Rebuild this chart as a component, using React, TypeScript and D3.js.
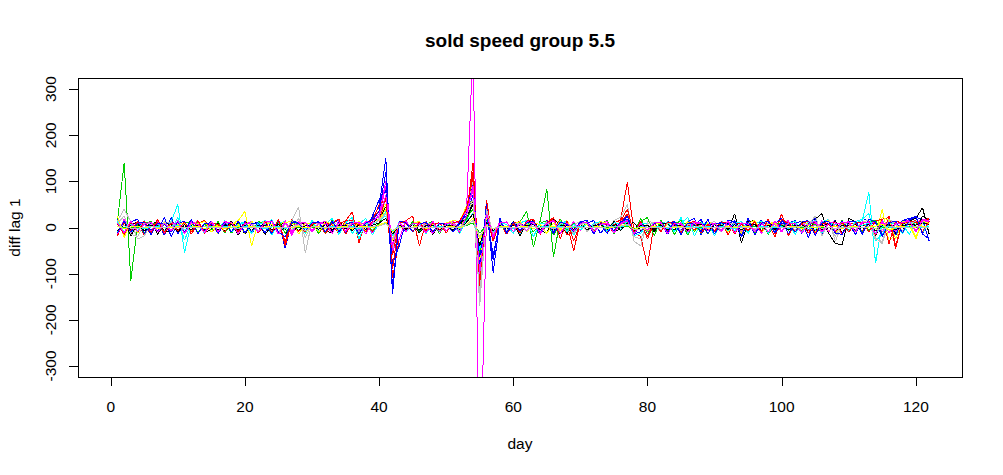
import React from "react";
import * as d3 from "d3";

const title = "sold speed group 5.5";
const xLabel = "day";
const yLabel = "diff lag 1";
const xTicks = [0, 20, 40, 60, 80, 100, 120];
const yTicks = [-300, -200, -100, 0, 100, 200, 300];
const days = d3.range(1, 123);
const palette = ["#000000", "#FF0000", "#00CD00", "#0000FF", "#00FFFF", "#FF00FF", "#FFFF00", "#BEBEBE"];

const blackA = [8,-14,5,12,-16,7,13,-10,-6,11, -9,4,15,-12,-3,10,-8,6,9,-14, 7,12,-15,4,9,-11,-5,14,-9,6, 10,-7,-12,15,-4,8,-11,5,12,18, 45,-38,10,-6,9,-12,7,4,-9,10, -6,8,14,60,-55,16,-20,9,-13,10, 5,-9,15,-7,-12,18,7,-14,10,-6, 9,-11,6,13,-8,-4,15,-13,7,4, -9,10,-6,8,-12,9,13,-10,6,-8, 10,-5,30,-33,9,7,-12,5,10,-9, 7,-10,13,-8,18,30,-12,-35,-37,20, 12,-9,15,-18,9,-11,12,-7,14,20, 43,-15];
const redA = [-16,10,-7,13,-18,9,5,-12,15,-8, 11,-14,7,16,-10,5,-9,12,-15,7, 9,-12,6,-8,14,-30,18,-9,10,7, -11,15,-6,9,14,16,-13,7,22,35, 120,-110,-25,16,-9,10,-7,13,-6,9, 7,-11,25,140,-130,60,-30,15,-13,9, -10,14,9,-12,16,-7,18,-16,-10,13, 7,-9,12,-6,10,16,98,-10,-20,-84, 9,10,-7,6,-12,9,7,-6,10,-9, 6,13,-10,7,-9,12,-7,16,-13,30, -18,10,-7,13,-10,7,16,-13,9,-6, 10,-9,13,-16,18,22,-46,14,10,13, 15,20];
const greenA = [14,140,-115,8,-13,10,6,-9,13,-7, 9,12,-10,7,-6,13,-12,9,-7,10, 6,-9,13,-10,7,9,-12,6,-7,10, -13,9,7,-10,12,-6,9,-7,10,25, 60,-50,9,-7,10,-6,7,13,-10,6, 9,-7,15,50,-60,22,-12,9,-10,7, 12,35,-42,14,83,-64,18,-9,13,-7, 10,-6,9,-13,15,-7,12,-10,20,-14, 9,-6,13,-16,10,7,-9,12,-14,9, 6,-7,10,-6,9,-13,7,10,-9,6, 7,-10,13,-6,9,-7,10,-12,6,9, -7,10,-6,13,-15,7,-9,10,13,-7, 9,14];
const blueA = [18,-12,8,-10,15,-7,13,-17,22,-14, 10,-9,13,-7,6,-10,14,-9,7,11, -13,9,10,-7,15,-45,16,7,-10,13, -9,10,-6,12,-13,9,7,-10,20,45, 150,-145,14,-10,13,-7,9,-12,6,10, -9,7,35,100,-100,50,-98,15,-10,9, 13,-9,10,-15,7,-10,13,-7,9,-6, 10,15,-13,7,-9,10,30,-18,13,-10, 7,9,-15,10,-7,13,20,-16,10,7, -10,15,13,-20,10,-7,17,-13,9,20, -14,10,13,-22,18,-9,7,15,-13,10, -16,20,14,-13,10,7,-9,13,17,22, 18,-30];
const cyanA = [-9,13,-15,10,7,-12,9,-7,13,50, -55,10,7,-13,9,-6,12,-10,7,13, -10,7,15,-17,10,13,-9,7,-12,9, 10,-7,13,-10,15,-13,7,20,-16,10, 35,-25,13,-9,7,10,-13,9,-7,6, 10,-7,20,40,-50,14,-18,10,-7,9, -13,10,7,-9,12,-10,6,15,-17,10, -7,9,13,-10,7,-6,15,-13,9,7, -10,13,7,-9,22,-14,10,-7,9,-18, 13,9,-7,10,-13,15,-9,10,7,-10, 13,-15,9,10,-7,13,17,-10,7,-9, 10,15,76,-78,14,9,-13,10,-15,13, 7,10];
const magentaA = [13,-9,7,-10,15,-13,9,6,-7,10, -12,9,13,-7,10,-9,6,12,-10,7, 13,-10,9,-6,7,10,-13,15,-7,9, -10,12,7,-9,13,-7,10,9,-12,25, 90,-60,13,-7,10,-9,7,6,-10,9, 13,-7,25,400,-600,22,-20,13,-9,10, -7,9,13,-10,7,-6,10,-9,13,-7, 9,-10,7,6,-9,10,18,-14,7,-6, 10,-7,13,-9,6,-10,7,9,-7,10, -6,9,7,-10,13,-7,6,10,-9,7, 15,-10,13,-7,9,-6,10,13,-15,7, 10,-9,7,13,-10,15,-7,10,9,13, 15,7];
const yellowA = [22,-18,12,-10,7,-15,10,9,-7,13, -10,7,12,-9,6,-13,10,7,15,35, -40,13,9,-10,7,12,-9,6,-13,10, 9,-7,15,-10,7,-6,13,-9,10,20, 50,-40,10,-7,9,13,-10,7,-6,9, 10,-7,35,60,-80,22,-18,10,-7,13, -9,7,10,-13,9,-7,15,-10,7,-6, 10,-9,7,13,-10,6,15,-13,9,-7, 10,-6,7,9,-10,13,-7,6,10,-9, 7,-10,13,-7,6,10,-9,7,13,-10, 9,-7,10,6,-13,15,-9,7,10,-7, 13,-10,15,-13,39,-30,-14,10,7,-25, 13,12];
const grayA = [14,40,12,-25,-18,10,-9,7,13,-10, 9,-7,10,-6,13,-9,7,10,-12,9, -7,10,13,-9,7,-6,15,45,-55,13, 9,-7,10,-6,7,13,-10,9,-7,20, 60,-50,10,-7,9,-6,13,-10,7,9, -7,10,45,100,-170,30,-14,9,-7,10, 6,-9,13,-7,10,-6,9,-10,7,13, -9,7,10,-6,15,22,50,-30,-40,14, 10,-7,9,6,-10,7,13,-9,7,-6, 10,-7,9,13,-10,7,-6,10,9,-7, 13,-9,7,10,22,-13,18,-30,7,10, -9,13,15,-22,-35,14,10,-7,9,13, 10,7];
const blackB = [-12,16,-18,10,-7,13,-15,9,6,-10, 7,-9,12,-6,9,-10,7,13,-16,10, 9,-7,13,-10,6,9,-15,7,10,-9, 7,13,-10,9,-6,7,-13,10,9,25, 40,-30,9,-7,10,-6,7,-15,9,6, -7,10,20,50,-60,18,-13,7,-10,13, -18,10,15,-13,9,20,-14,7,-10,9, 7,-9,10,-6,13,-7,9,10,-7,6, -9,7,10,-6,9,-7,13,-10,7,6, -9,10,7,-6,13,15,-10,7,-9,10, 6,-7,10,13,-9,7,-10,15,-13,9, 7,-10,13,-7,9,10,-13,7,15,-9, 25,14];
const redB = [-18,14,-12,10,7,-15,13,-9,10,-7, 13,-10,9,-7,15,-13,10,7,-9,12, -10,9,7,-13,15,-35,9,10,-7,13, -10,9,7,-13,15,34,-33,13,-9,10, 70,-60,9,15,25,-40,13,-9,10,7, -10,13,30,120,-120,40,-25,10,-15,9, 13,-10,15,-9,7,20,-13,9,-51,14, 10,-7,13,-9,7,10,30,-13,9,-20, 10,-7,9,13,-10,7,-6,10,9,-7, 13,-15,10,7,-9,15,-10,7,-20,18, 9,-7,10,-13,15,-7,9,10,-13,7, 10,-9,13,15,-18,25,-40,13,9,10, 14,18];
const greenB = [22,-14,10,-7,9,13,-10,7,-6,10, 9,-7,13,-10,7,-6,15,-13,9,7, -10,13,7,-9,15,-13,10,7,-9,6, 10,-13,17,-9,7,10,-15,13,-7,9, 30,-25,10,-7,13,-9,7,10,-13,9, 7,-10,20,40,-60,18,-12,7,-9,10, -7,13,-10,9,15,-17,10,-7,9,-6, 13,-10,7,15,-13,9,7,-10,13,22, -18,16,-10,7,15,-17,10,-13,9,7, -10,13,7,-9,10,-7,13,-15,9,10, -7,13,-10,9,7,-13,10,-9,15,-7, 13,-10,9,17,-15,7,10,-13,9,7, 13,10];
const blueB = [13,-16,12,18,-14,10,-7,22,-20,10, 13,-9,10,-7,15,-13,9,7,-10,13, -9,10,7,-13,18,-45,15,10,-9,7, 13,-10,9,17,-13,7,10,-9,25,60, 80,-80,-40,15,-10,9,7,-13,10,-7, 9,13,30,70,-70,40,-70,20,-13,10, -9,13,7,-10,15,-13,9,10,-7,13, 15,-10,7,-13,10,9,25,-14,-9,10, 7,-10,13,9,-15,10,7,17,-13,9, 10,-7,13,-15,20,-17,10,7,-10,13, 10,15,-13,9,20,-15,10,-7,13,-10, 15,-13,9,10,-15,13,-17,15,20,22, -14,18];
const cyanB = [13,-10,9,-7,15,-13,10,7,-9,22, -28,10,7,-13,9,-6,15,-10,7,9, -13,10,7,17,-15,9,-7,10,-13,15, -9,7,20,-15,10,22,-25,10,7,15, 25,-18,10,-7,9,13,-10,7,-9,10, 7,-13,15,30,-40,14,-10,9,7,-13, 10,15,-20,9,7,-10,13,-9,7,-6, 9,-10,13,-7,10,9,18,-18,-13,10, 7,-9,13,-10,9,22,-18,10,7,-13, 10,-7,9,13,-10,7,15,-13,9,-7, 10,13,-10,7,15,-13,9,7,10,-7, 13,18,30,-30,-14,10,7,-13,9,15, -12,10];
const magentaB = [-14,18,-12,10,7,-9,15,-13,9,7, -10,13,7,-9,10,-7,13,9,-10,7, 13,-10,9,7,-13,15,-17,13,9,-7, 10,7,-13,15,-9,10,-7,13,9,30, 100,-50,-25,15,-10,9,7,-13,10,-7, 9,13,35,80,-90,28,-22,13,-10,9, -7,13,10,-9,7,15,-13,9,-10,7, 10,-7,9,13,-10,7,15,-13,9,-7, 10,9,-13,7,10,-9,15,-10,7,9, -10,13,7,-9,10,15,-13,9,7,-10, 13,-9,10,7,-13,15,-10,9,7,13, -10,9,13,-15,10,7,-9,13,15,-10, 18,14];
const yellowB = [25,-22,14,-12,10,7,-10,13,-9,7, 10,-7,9,13,-10,7,-9,10,7,-13, 15,-10,9,7,-13,10,15,-15,9,7, -10,13,7,-9,10,-7,13,-10,9,15, 40,-30,10,-7,9,13,-10,7,-9,10, 15,13,45,60,-80,22,-18,10,-9,7, 13,-10,9,7,-13,10,-7,15,-10,9, 7,-10,13,9,-7,10,15,-13,7,-9, 10,7,-10,13,-9,7,10,-7,9,13, -10,7,9,-13,10,15,-10,7,9,-7, 10,-9,13,7,-10,9,15,-13,7,10, -9,13,10,-7,22,15,-25,13,10,-20, 14,9];
const grayB = [9,25,-14,-20,10,7,-9,13,-7,10, -6,9,7,-10,13,-7,9,6,-10,7, 10,-7,9,13,-10,7,-6,20,-22,10, 7,-9,10,6,-7,13,-10,7,9,15, 30,-25,10,-7,9,-6,7,10,-9,7, 10,-7,25,60,-150,40,-13,9,-7,10, 7,-9,10,-6,13,-7,9,10,-13,7, 9,-7,10,6,-9,13,40,-20,-25,9, 7,-6,10,9,-7,6,10,-9,7,13, -10,7,9,-6,10,-7,9,13,-10,7, 9,-7,10,6,25,-18,9,-20,10,7, -6,13,9,-25,-30,18,7,-9,10,6, 9,7];
const blackC = [-7,5,-4,6,-8,5,4,-6,7,-5, 4,-5,6,-4,5,-6,4,7,-5,4, -6,5,4,-5,7,-4,5,-6,4,5, -4,6,-5,4,5,-7,6,-4,5,10, 20,-15,5,-4,6,-5,4,5,-6,4, 5,-4,10,30,-40,12,-7,5,-4,6, -5,4,6,-4,5,-6,4,5,-4,6, -5,4,7,-4,5,-6,10,-7,4,5, -4,6,-5,4,5,-6,4,7,-5,4, 5,-4,6,-5,4,7,-6,5,-4,6, -5,4,6,-4,5,-6,10,-8,5,4, -6,5,7,-8,4,6,-5,4,7,5, 10,7];
const redC = [8,-15,12,-10,14,-12,18,-14,10,-7, 12,-10,15,-13,9,7,-10,12,-9,10, 7,-12,14,-10,18,-40,12,9,-10,7, 12,-14,10,18,-15,9,7,-10,14,50, 60,-90,14,9,-10,12,-7,9,10,-12, 10,14,40,110,-110,30,-30,14,-10,9, -12,14,18,-15,10,22,-25,14,-30,10, 12,-10,9,7,-12,14,40,-15,14,-25, 10,-9,12,7,-10,9,14,-12,7,-9, 10,12,-14,9,-7,12,-10,18,-14,7, 12,-10,9,14,-12,10,7,-9,12,-10, 9,12,-10,14,18,-35,14,9,12,15, -9,14];
const greenC = [2,-1,1,0,-1,2,-2,1,0,1, -1,1,2,-2,1,0,-1,2,-1,1, 0,1,-1,2,-2,1,0,1,-1,0, 1,-1,2,-1,0,1,-2,1,0,3, 8,-6,1,0,-1,2,-1,0,1,-1, 0,1,4,10,-12,3,-2,1,0,-1, 1,2,-2,1,3,-2,0,1,-1,0, 1,-1,2,-1,0,1,3,-2,1,-1, 0,1,-1,2,-1,0,1,-1,2,-1, 0,1,-1,1,0,2,-2,1,0,-1, 1,0,-1,2,-1,1,0,-2,1,1, -1,0,2,-2,1,0,-1,1,2,-1, 1,0];
const blueC = [-12,14,-10,9,12,-15,10,7,-9,12, -10,18,-14,10,7,-9,12,-10,14,-12, 9,10,-12,15,-10,-20,12,9,-7,10, 12,-10,14,-9,7,12,-14,10,15,35, 120,-130,14,10,-9,7,12,-10,9,7, -10,12,25,90,-90,30,-60,14,-10,12, -7,10,14,-12,9,-10,12,7,-9,10, 12,-14,10,9,-7,12,18,-15,10,-7, 9,12,-10,14,-15,10,7,-9,18,-14, 10,7,15,-18,12,-10,9,14,-12,10, 7,-10,12,15,-18,10,14,-12,-15,12, 14,-15,18,12,-20,10,14,-12,15,25, -14,-25];
const cyanC = [3,-2,1,2,-3,1,2,-1,3,5, -6,2,1,-2,3,-1,2,1,-2,3, -1,2,-3,1,2,-2,1,3,-2,1, 2,-1,3,-2,1,2,-3,1,2,4, 10,-8,2,-1,1,2,-2,1,3,-1, 2,-2,5,15,-25,5,-3,2,1,-2, 1,3,-2,1,2,-1,3,-2,1,2, -1,2,1,-3,2,1,5,-4,2,-1, 1,2,-2,3,-1,2,1,-2,3,-1, 2,1,-3,2,1,-2,3,1,-1,2, -2,1,3,-2,1,2,-1,3,-2,1, 2,5,10,-12,2,1,-2,3,1,2, -1,2];
const magentaC = [10,-12,14,-9,7,12,-10,9,-7,15, -14,10,7,-12,14,-9,10,12,-14,9, 7,-10,12,14,-15,10,-9,7,12,-10, 9,14,-12,10,-7,9,12,-14,10,25, 70,-40,12,-9,10,7,-12,14,-10,9, 7,-10,25,90,-100,30,-18,10,12,-9, 10,-7,12,-14,9,15,-12,10,-7,9, 12,-10,7,9,-12,10,15,-14,9,-7, 10,12,-14,9,7,-10,12,9,-7,10, -9,14,-12,10,7,-9,12,-10,14,-7, 10,9,-12,7,14,-10,9,-7,12,10, -9,12,10,-14,15,-12,9,10,14,-7, 15,12];
const yellowC = [2,-3,1,2,-1,3,-2,1,0,2, -1,1,2,-2,1,3,-2,1,2,-1, 2,-1,1,3,-2,1,0,2,-1,1, 2,-2,1,0,3,-2,1,2,-1,5, 12,-10,2,-1,1,2,-2,1,0,1, 2,-1,6,20,-25,5,-3,1,2,-1, 1,2,-2,1,0,3,-2,1,2,-1, 0,1,2,-2,1,3,6,-4,1,0, 2,-1,1,0,2,-2,1,3,-2,1, 0,2,-1,1,2,-2,1,0,3,-1, 1,2,-2,1,0,2,-1,3,-2,1, 2,-1,1,3,8,-6,1,2,-1,1, 2,0];
const grayC = [1,4,-2,-3,1,2,-1,0,2,-1, 1,0,-1,2,-1,1,0,2,-2,1, 0,1,-1,2,0,-1,1,6,-8,2, 0,1,-1,2,-1,0,1,-1,2,3, 8,-6,1,0,-1,2,-1,1,0,1, -1,2,5,15,-20,4,-2,1,0,-1, 1,0,2,-1,1,-2,1,0,2,-1, 1,0,-1,2,1,3,8,-5,-4,1, 0,1,-1,2,0,-1,1,2,-1,0, 1,-1,2,0,1,-2,1,0,2,-1, 0,1,2,-1,4,-2,1,-3,1,0, 1,-1,2,-3,-4,2,1,-1,0,2, 1,0];

const seriesList = [
  blackA, redA, greenA, blueA, cyanA, magentaA, yellowA, grayA,
  blackB, redB, greenB, blueB, cyanB, magentaB, yellowB, grayB,
  blackC, redC, greenC, blueC, cyanC, magentaC, yellowC, grayC,
];

const W = 1003;
const H = 475;
const L = 78, R = 962, T = 78, B = 377;

export default function App() {
  const x = d3.scaleLinear().domain([-4.88, 126.88]).range([L, R]);
  const y = d3.scaleLinear().domain([-324, 324]).range([B, T]);
  // each series as a chain of independent segments (no joins)
  const segPath = (s: number[]) => {
    const p = d3.path();
    for (let i = 0; i < s.length - 1; i++) {
      p.moveTo(x(days[i]), y(s[i]));
      p.lineTo(x(days[i + 1]), y(s[i + 1]));
    }
    return p.toString();
  };
  const font = "'Liberation Sans', Arial, sans-serif";
  return (
    <svg
      width={W}
      height={H}
      style={{ position: "absolute", left: 0, top: 0, background: "#fff" }}
      fontFamily={font}
    >
      <defs>
        <clipPath id="plotclip">
          <rect x={L} y={T} width={R - L} height={B - T} />
        </clipPath>
      </defs>
      <rect x={0} y={0} width={W} height={H} fill="#fff" />
      <g clipPath="url(#plotclip)">
        {seriesList.map((s, i) => (
          <path
            key={i}
            d={segPath(s)}
            fill="none"
            stroke={palette[i % palette.length]}
            strokeWidth={1}
            strokeLinecap="butt"
            shapeRendering="crispEdges"
          />
        ))}
      </g>
      <rect x={L + 0.5} y={T + 0.5} width={R - L} height={B - T} fill="none" stroke="#000" strokeWidth={1} shapeRendering="crispEdges" />
      <line x1={Math.round(x(0)) + 0.5} x2={Math.round(x(120)) + 0.5} y1={B + 0.5} y2={B + 0.5} stroke="#000" />
      {xTicks.map((t) => (
        <g key={"x" + t}>
          <line x1={Math.round(x(t)) + 0.5} x2={Math.round(x(t)) + 0.5} y1={B} y2={B + 9} stroke="#000" />
          <text x={x(t)} y={412} textAnchor="middle" fontSize={15.5} fill="#000">
            {t}
          </text>
        </g>
      ))}
      {yTicks.map((t) => (
        <g key={"y" + t}>
          <line x1={L - 9} x2={L} y1={Math.round(y(t)) + 0.5} y2={Math.round(y(t)) + 0.5} stroke="#000" />
          <text
            transform={`translate(56,${y(t)}) rotate(-90)`}
            textAnchor="middle"
            fontSize={15.5}
            fill="#000"
          >
            {t}
          </text>
        </g>
      ))}
      <text x={(L + R) / 2} y={449} textAnchor="middle" fontSize={15.5} fill="#000">
        {xLabel}
      </text>
      <text transform={`translate(20,${(T + B) / 2}) rotate(-90)`} textAnchor="middle" fontSize={15.5} fill="#000">
        {yLabel}
      </text>
      <text x={(L + R) / 2} y={47} textAnchor="middle" fontSize={19} fontWeight="bold" fill="#000">
        {title}
      </text>
    </svg>
  );
}
